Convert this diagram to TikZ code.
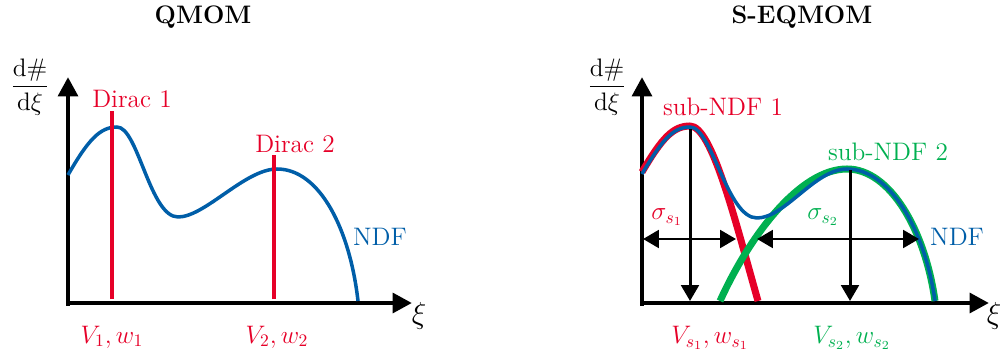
\documentclass[tikz,border=0pt]{standalone}
\usepackage{amsmath}
\usetikzlibrary{arrows.meta}
\definecolor{diracred}{RGB}{230,0,40}
\definecolor{ndfblue}{RGB}{0,94,168}
\definecolor{subgreen}{RGB}{0,176,80}
\tikzset{
  axis/.style={line width=2.8pt,-{Triangle[length=11pt,width=11pt]}},
  dirac/.style={diracred,line width=2.6pt},
  ndf/.style={ndfblue,line width=2pt,line join=round},
  subndf/.style={line width=4pt,line join=round},
  spread/.style={line width=1.7pt,{Triangle[length=9pt,width=10pt]}-{Triangle[length=9pt,width=10pt]}},
  drop/.style={line width=1.7pt,-{Triangle[length=9pt,width=10pt]}},
  lbl/.style={font=\Large,inner sep=1pt},
  ttl/.style={font=\Large\bfseries}
}
\begin{document}
\begin{tikzpicture}[x=0.02cm,y=-0.02cm]
  \useasboundingbox (0,0) rectangle (1000,358);
  % QMOM
  \node[ttl] (t1) at (203,17) {QMOM};
  \coordinate (o1) at (68,303);
  \coordinate (y1) at (68,77);
  \coordinate (x1) at (412,303);
  \draw[axis] (o1) ++(0,2.5) -- (y1);
  \draw[axis] (o1) ++(-1.4,0) -- (x1);
  \node[lbl] (dd1) at (30,87) {$\dfrac{\mathrm{d}\#}{\mathrm{d}\xi}$};
  \node[font=\LARGE] (xi1) at (419,316) {$\xi$};
  \draw[ndf] (68,175) .. controls (88,140) and (100,127) .. (117,127)
    .. controls (138,127) and (150,217) .. (178,217)
    .. controls (205,217) and (245,169) .. (277,169)
    .. controls (320,169) and (350,230) .. (358,301);
  \coordinate (d1b) at (112,299);
  \coordinate (d1t) at (112,111);
  \coordinate (d2b) at (274,299);
  \coordinate (d2t) at (274,155);
  \draw[dirac] (d1b) -- (d1t);
  \draw[dirac] (d2b) -- (d2t);
  \node[lbl,diracred] (dl1) at (132,99) {Dirac 1};
  \node[lbl,diracred] (dl2) at (295,144) {Dirac 2};
  \node[lbl,ndfblue] (n1) at (380,237) {NDF};
  \node[lbl,diracred] (vw1) at (112,337) {$V_1, w_1$};
  \node[lbl,diracred] (vw2) at (277,337) {$V_2, w_2$};
  % S-EQMOM
  \node[ttl] (t2) at (802,17) {S-EQMOM};
  \coordinate (o2) at (642,303);
  \coordinate (y2) at (642,77);
  \coordinate (x2) at (989,303);
  \draw[axis] (o2) ++(0,2.5) -- (y2);
  \draw[axis] (o2) ++(-1.4,0) -- (x2);
  \node[lbl] (dd2) at (607,87) {$\dfrac{\mathrm{d}\#}{\mathrm{d}\xi}$};
  \node[font=\LARGE] (xi2) at (994,316) {$\xi$};
  \draw[subndf,diracred] (642,172) .. controls (662,138) and (673,126) .. (690,126)
    .. controls (712,126) and (735,220) .. (758,301);
  \draw[subndf,subgreen] (720,301) .. controls (750,235) and (800,169) .. (847,169)
    .. controls (890,169) and (925,230) .. (935,301);
  \draw[ndf] (642,174) .. controls (662,140) and (673,127) .. (690,127)
    .. controls (712,127) and (727,218) .. (757,218)
    .. controls (785,218) and (815,169) .. (847,169)
    .. controls (890,169) and (925,230) .. (935,301);
  \coordinate (p1) at (690,129);
  \coordinate (m1) at (690,301);
  \coordinate (p2) at (850,170);
  \coordinate (m2) at (850,301);
  \coordinate (s1l) at (643,239);
  \coordinate (s1r) at (736,239);
  \coordinate (s2l) at (757,239);
  \coordinate (s2r) at (919,239);
  \draw[drop] (p1) -- (m1);
  \draw[drop] (p2) -- (m2);
  \draw[spread] (s1l) -- (s1r);
  \draw[spread] (s2l) -- (s2r);
  \node[lbl,diracred] (sn1) at (723,107) {sub-NDF 1};
  \node[lbl,subgreen] (sn2) at (888,152) {sub-NDF 2};
  \node[lbl,diracred] (sg1) at (667,217) {$\sigma_{s_1}$};
  \node[lbl,subgreen] (sg2) at (823,217) {$\sigma_{s_2}$};
  \node[lbl,ndfblue] (n2) at (957,237) {NDF};
  \node[lbl,diracred] (vw3) at (710,338) {$V_{s_1}, w_{s_1}$};
  \node[lbl,subgreen] (vw4) at (852,338) {$V_{s_2}, w_{s_2}$};
\end{tikzpicture}
\end{document}
